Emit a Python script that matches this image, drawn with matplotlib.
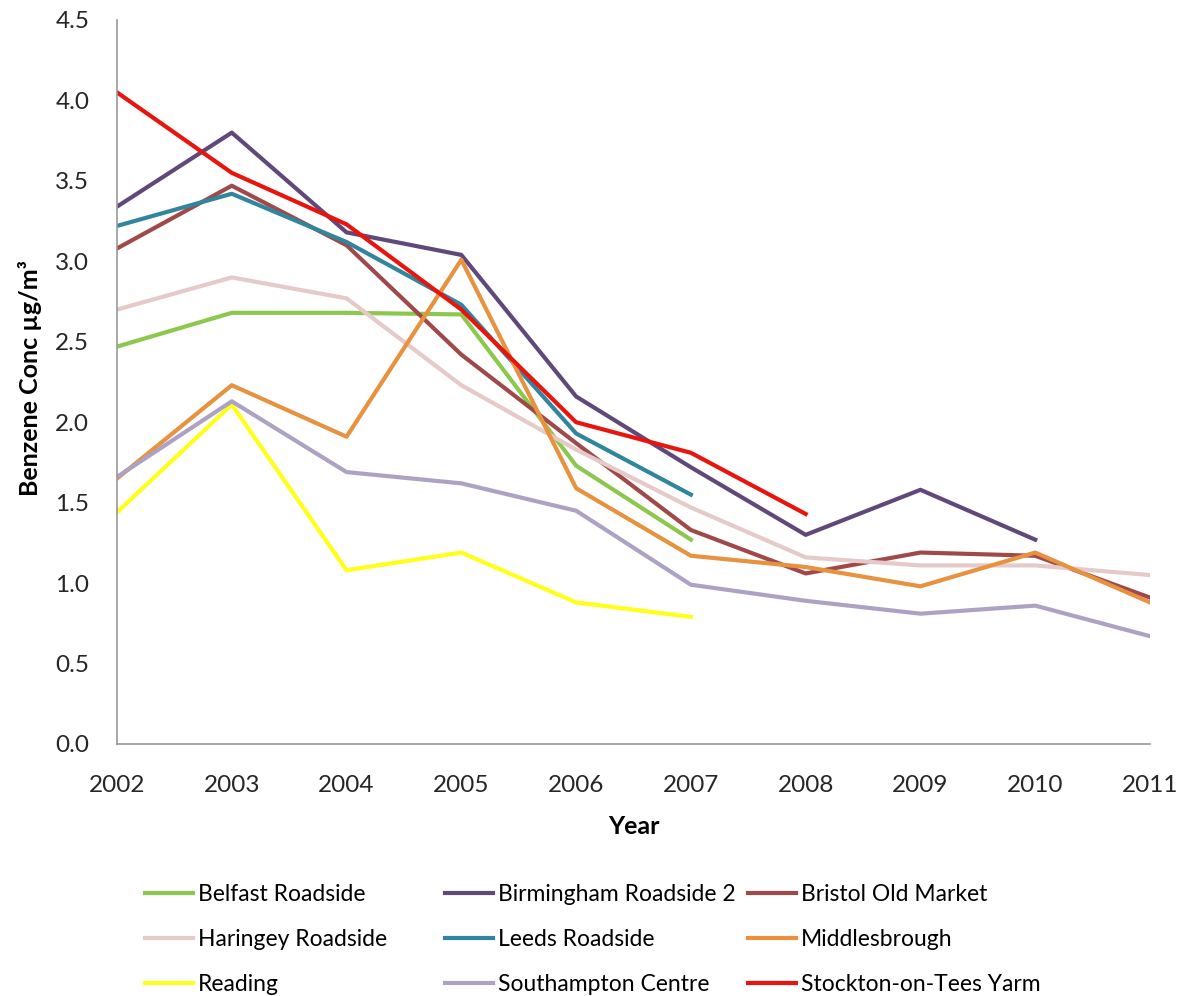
import matplotlib.pyplot as plt

plt.rcParams['font.family'] = ['Lato', 'DejaVu Sans']

years = [2002, 2003, 2004, 2005, 2006, 2007, 2008, 2009, 2010, 2011]

# benzene concentrations per site, series stop where data stops
belfast = [2.47, 2.68, 2.68, 2.67, 1.73, 1.27]
birmingham = [3.34, 3.80, 3.18, 3.04, 2.16, 1.72, 1.30, 1.58, 1.27]
bristol = [3.08, 3.47, 3.10, 2.42, 1.87, 1.33, 1.06, 1.19, 1.17, 0.91]
haringey = [2.70, 2.90, 2.77, 2.23, 1.83, 1.47, 1.16, 1.11, 1.11, 1.05]
leeds = [3.22, 3.42, 3.12, 2.73, 1.93, 1.55]
middlesbrough = [1.65, 2.23, 1.91, 3.01, 1.59, 1.17, 1.10, 0.98, 1.19, 0.88]
reading = [1.44, 2.11, 1.08, 1.19, 0.88, 0.79]
southampton = [1.66, 2.13, 1.69, 1.62, 1.45, 0.99, 0.89, 0.81, 0.86, 0.67]
stockton = [4.05, 3.55, 3.23, 2.70, 2.00, 1.81, 1.43]

sites = ["Belfast Roadside", "Birmingham Roadside 2", "Bristol Old Market",
         "Haringey Roadside", "Leeds Roadside", "Middlesbrough",
         "Reading", "Southampton Centre", "Stockton-on-Tees Yarm"]
series = [belfast, birmingham, bristol, haringey, leeds, middlesbrough,
          reading, southampton, stockton]
colors = ["#8DC84E", "#60497A", "#A0494A", "#E6C9C9", "#31859C", "#E8913F",
          "#FFFF1A", "#ADA2C4", "#E8140E"]

W, H = 1191, 996
fig = plt.figure(figsize=(W / 100, H / 100), dpi=100)
ax = fig.add_axes([117 / W, 1 - 744 / H, (1150 - 117) / W, (744 - 20) / H])

handles = []
for name, vals, c in zip(sites, series, colors):
    h, = ax.plot(years[:len(vals)], vals, color=c, lw=3, label=name)
    handles.append(h)

ax.set_xlim(2002, 2011)
ax.set_ylim(0, 4.5)
ax.set_xticks(years)
ax.set_yticks([i * 0.5 for i in range(10)])
ax.set_yticklabels(["%.1f" % (i * 0.5) for i in range(10)])
ax.tick_params(labelsize=17.5, length=0, colors='#262626')
ax.tick_params(axis='y', pad=20)
ax.tick_params(axis='x', pad=22)
for s in ['top', 'right']:
    ax.spines[s].set_visible(False)
for s in ['left', 'bottom']:
    ax.spines[s].set_color('#999999')
    ax.spines[s].set_linewidth(1.2)

ax.set_xlabel("Year", fontsize=18, fontweight='bold')
ax.set_ylabel("Benzene Conc µg/m³", fontsize=18, fontweight='bold')
ax.xaxis.set_label_coords(0.5, -0.098)
ax.yaxis.set_label_coords(-0.0726, 0.505)

# legend: three fixed-width columns like the original
col_x = [145, 445, 748]
for k in range(3):
    idx = [k, k + 3, k + 6]
    fig.legend([handles[i] for i in idx], [sites[i] for i in idx],
               loc='upper left', bbox_to_anchor=(col_x[k] / W, 1 - 884 / H),
               ncol=1, frameon=False, fontsize=16.5, handlelength=2.1,
               handletextpad=0.2, borderpad=0, borderaxespad=0,
               labelspacing=1.05)

fig.savefig("out.png", dpi=100)
